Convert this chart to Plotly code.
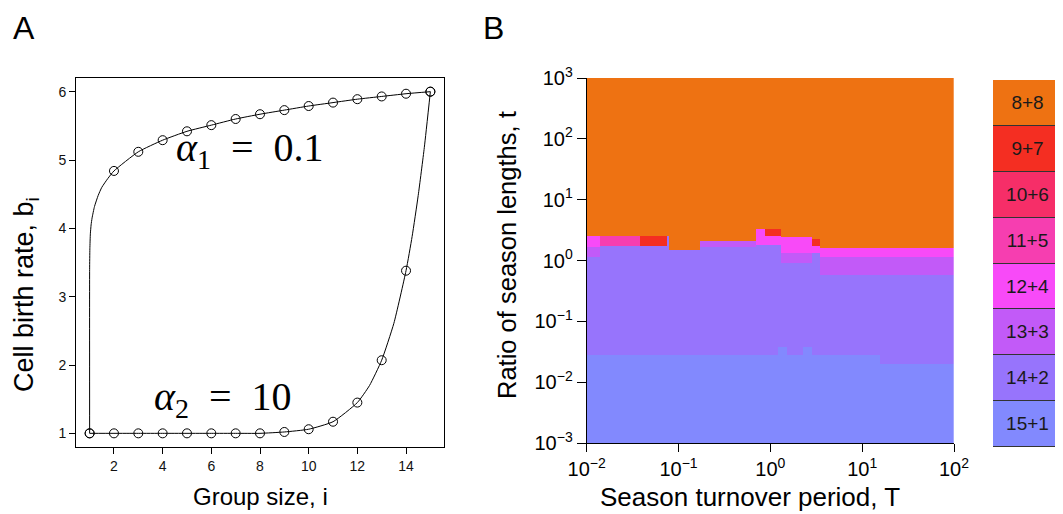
import numpy as np
import plotly.graph_objects as go

# ---------------- Panel A data ----------------
group_size = list(range(1, 16))
b_alpha1 = [1.00, 4.84, 5.12, 5.29, 5.42, 5.51, 5.60, 5.67, 5.73, 5.79, 5.84, 5.89, 5.93, 5.97, 6.00]
b_alpha2 = [1.00, 1.00, 1.00, 1.00, 1.00, 1.00, 1.00, 1.00, 1.02, 1.06, 1.17, 1.45, 2.07, 3.38, 6.00]

# smooth curve through the points
curve1_i = [1.0, 1.0, 1.01, 1.03, 1.06, 1.1, 1.2, 1.35, 1.5, 1.75, 2, 3, 4, 5, 6, 7, 8, 9, 10, 11, 12, 13, 14, 15]
curve1_b = [1.0, 3.4, 3.7, 3.92, 4.05, 4.15, 4.32, 4.48, 4.60, 4.73, 4.84, 5.12, 5.29, 5.42, 5.51, 5.60,
            5.67, 5.73, 5.79, 5.84, 5.89, 5.93, 5.97, 6.00]
curve2_i = [1, 2, 3, 4, 5, 6, 7, 8, 9, 10, 11, 12, 12.5, 13, 13.5, 14, 14.25, 14.5, 14.75, 15]
curve2_b = [1.0, 1.0, 1.0, 1.0, 1.0, 1.0, 1.0, 1.0, 1.02, 1.06, 1.17, 1.45, 1.70, 2.07, 2.61, 3.38,
            3.88, 4.48, 5.18, 6.00]

# ---------------- Panel B data ----------------
categories = ["8+8", "9+7", "10+6", "11+5", "12+4", "13+3", "14+2", "15+1"]
cat_colors = ["#EE7212", "#F42E22", "#F62E68", "#F63EB0", "#F84AF8", "#C25AF8", "#9774FC", "#8289FE"]

# regions of the (log10 T, log10 t) plane and the winning strategy (index into categories)
reg_logT0 = [-2.0, -2.0, 1.2, 0.08, 0.36,
             -2.0, -1.09, -0.75, -0.15, 0.13, 0.45, 0.54,
             -2.0, -2.0, -1.86, -1.42, -0.75, -0.15, -0.06, 0.13, 0.13, 0.45, 0.45, 0.54, 0.54]
reg_logT1 = [2.0, 1.2, 2.0, 0.18, 0.45,
             -1.09, -0.75, -0.15, 0.13, 0.45, 0.54, 2.0,
             -1.86, -1.86, -1.42, -1.12, -0.15, 0.13, 0.13, 0.45, 0.45, 0.54, 0.54, 2.0, 2.0]
reg_logt0 = [-3.0, -1.55, -1.69, -1.55, -1.55,
             0.39, 0.19, 0.32, 0.52, 0.37, 0.36, 0.205,
             0.22, 0.06, 0.24, 0.24, 0.22, 0.26, 0.40, 0.12, -0.05, 0.25, 0.12, 0.06, -0.24]
reg_logt1 = [3.0, 3.0, 3.0, -1.42, -1.42,
             3.0, 3.0, 3.0, 3.0, 3.0, 3.0, 3.0,
             0.39, 0.22, 0.39, 0.39, 0.32, 0.52, 0.52, 0.37, 0.12, 0.36, 0.25, 0.205, 0.06]
reg_cat = [7, 6, 6, 7, 7,
           0, 0, 0, 0, 0, 0, 0,
           4, 5, 3, 1, 5, 4, 1, 4, 5, 1, 4, 4, 5]

x_ticks_B = [-2, -1, 0, 1, 2]
x_ticktext_B = ["10<sup>\u22122</sup>", "10<sup>\u22121</sup>", "10<sup>0</sup>", "10<sup>1</sup>", "10<sup>2</sup>"]
y_ticks_B = [-3, -2, -1, 0, 1, 2, 3]
y_ticktext_B = ["10<sup>\u22123</sup>", "10<sup>\u22122</sup>", "10<sup>\u22121</sup>", "10<sup>0</sup>",
                "10<sup>1</sup>", "10<sup>2</sup>", "10<sup>3</sup>"]

# build grid
nT, nt = 200, 300
logT = np.linspace(-2, 2, nT + 1)[:-1] + 2.0 / nT
logt = np.linspace(-3, 3, nt + 1)[:-1] + 3.0 / nt
Z = np.zeros((nt, nT))
for T0, T1, t0, t1, c in zip(reg_logT0, reg_logT1, reg_logt0, reg_logt1, reg_cat):
    cols = (logT >= T0) & (logT < T1)
    rows = (logt >= t0) & (logt < t1)
    Z[np.ix_(rows, cols)] = c

n = len(categories)
cscale = []
for k, col in enumerate(cat_colors):
    cscale.append([k / n, col])
    cscale.append([(k + 1) / n, col])

# the page body adds an 8 px offset; size the figure so it fills the window
OFF = 8
W, H = 1063 - OFF, 514 - OFF
def px(x):
    return (x - OFF) / W
def py(y):
    return 1 - (y - OFF) / H

FONT = "Liberation Sans, Arial, Helvetica, sans-serif"
SERIF = "Liberation Serif, Times New Roman, serif"

fig = go.Figure()

# Panel A
fig.add_trace(go.Scatter(x=curve1_i, y=curve1_b, mode="lines", line=dict(color="black", width=1, shape="spline", smoothing=0.5),
                         xaxis="x", yaxis="y", hoverinfo="skip"))
fig.add_trace(go.Scatter(x=curve2_i, y=curve2_b, mode="lines", line=dict(color="black", width=1, shape="spline", smoothing=0.5),
                         xaxis="x", yaxis="y", hoverinfo="skip"))
fig.add_trace(go.Scatter(x=group_size, y=b_alpha1, mode="markers",
                         marker=dict(symbol="circle-open", size=9, color="black", line=dict(width=1)),
                         xaxis="x", yaxis="y"))
fig.add_trace(go.Scatter(x=group_size, y=b_alpha2, mode="markers",
                         marker=dict(symbol="circle-open", size=9, color="black", line=dict(width=1)),
                         xaxis="x", yaxis="y"))

# Panel B
fig.add_trace(go.Heatmap(x=logT, y=logt, z=Z, colorscale=cscale, zmin=-0.5, zmax=n - 0.5,
                         showscale=False, xaxis="x2", yaxis="y2", hoverinfo="skip"))

# Legend column
fig.add_trace(go.Bar(y=categories, x=[1] * n, orientation="h",
                     marker=dict(color=cat_colors, line=dict(color="#333333", width=1)),
                     text=categories, textposition="inside", insidetextanchor="middle",
                     constraintext="none",
                     insidetextfont=dict(family=FONT, size=19, color="#1a1a1a"),
                     xaxis="x3", yaxis="y3", hoverinfo="skip"))

tick_common = dict(ticks="outside", tickcolor="black", showgrid=False, zeroline=False, automargin=False,
                   showline=True, linecolor="black", linewidth=1)

fig.update_layout(
    template="none",
    width=W, height=H, margin=dict(l=0, r=0, t=0, b=0, autoexpand=False),
    paper_bgcolor="white", plot_bgcolor="white", showlegend=False,
    font=dict(family=FONT, color="black"),
    bargap=0,
    xaxis=dict(domain=[px(76), px(444)], anchor="y", range=[0.44, 15.56],
               tickvals=[2, 4, 6, 8, 10, 12, 14], ticklen=6, mirror=True,
               tickfont=dict(size=14, color="#111"), **tick_common),
    yaxis=dict(domain=[py(447), py(78)], anchor="x", range=[0.8, 6.2],
               tickvals=[1, 2, 3, 4, 5, 6], ticklen=6, mirror=True,
               tickfont=dict(size=14, color="#111"), **tick_common),
    xaxis2=dict(domain=[px(586.7), px(954)], anchor="y2", range=[-2, 2],
                tickvals=x_ticks_B, ticktext=x_ticktext_B, ticklen=8,
                tickfont=dict(size=20), **tick_common),
    yaxis2=dict(domain=[py(443), py(78)], anchor="x2", range=[-3, 3],
                tickvals=y_ticks_B, ticktext=y_ticktext_B, ticklen=9,
                tickfont=dict(size=20), **tick_common),
    xaxis3=dict(domain=[px(993), 1.0], anchor="y3", range=[0, 1.0], visible=False, automargin=False),
    yaxis3=dict(domain=[py(447), py(80)], anchor="x3", autorange="reversed", visible=False, automargin=False),
)

SP = "\u2002"
ann = [
    dict(text="A", x=px(11), y=1.0, xref="paper", yref="paper", xanchor="left", yanchor="top",
         showarrow=False, font=dict(size=32)),
    dict(text="B", x=px(481), y=1.0, xref="paper", yref="paper", xanchor="left", yanchor="top",
         showarrow=False, font=dict(size=32)),
    dict(text="Group size, i", x=px(260), y=py(512), xref="paper", yref="paper", showarrow=False,
         xanchor="center", yanchor="bottom", font=dict(size=24)),
    dict(text="Cell birth rate, b<sub>i</sub>", x=px(26), y=py(295), xref="paper", yref="paper",
         xanchor="center", yanchor="middle", textangle=-90, showarrow=False, font=dict(size=27)),
    dict(text="Ratio of season lengths, t", x=px(507), y=py(255), xref="paper", yref="paper",
         xanchor="center", yanchor="middle", textangle=-90, showarrow=False, font=dict(size=25.5)),
    dict(text="Season turnover period, T", x=px(750), y=py(514), xref="paper", yref="paper",
         xanchor="center", yanchor="bottom", showarrow=False, font=dict(size=26)),
    dict(text="<i>\u03b1</i><sub>1</sub>" + SP + "=" + SP + "0.1", x=7.58, y=5.15, xref="x", yref="y", showarrow=False,
         xanchor="center", yanchor="middle", font=dict(size=40, family=SERIF)),
    dict(text="<i>\u03b1</i><sub>2</sub>" + SP + "=" + SP + "10", x=6.47, y=1.50, xref="x", yref="y", showarrow=False,
         xanchor="center", yanchor="middle", font=dict(size=40, family=SERIF)),
]
fig.update_layout(annotations=ann)

fig.write_html("out.html")
